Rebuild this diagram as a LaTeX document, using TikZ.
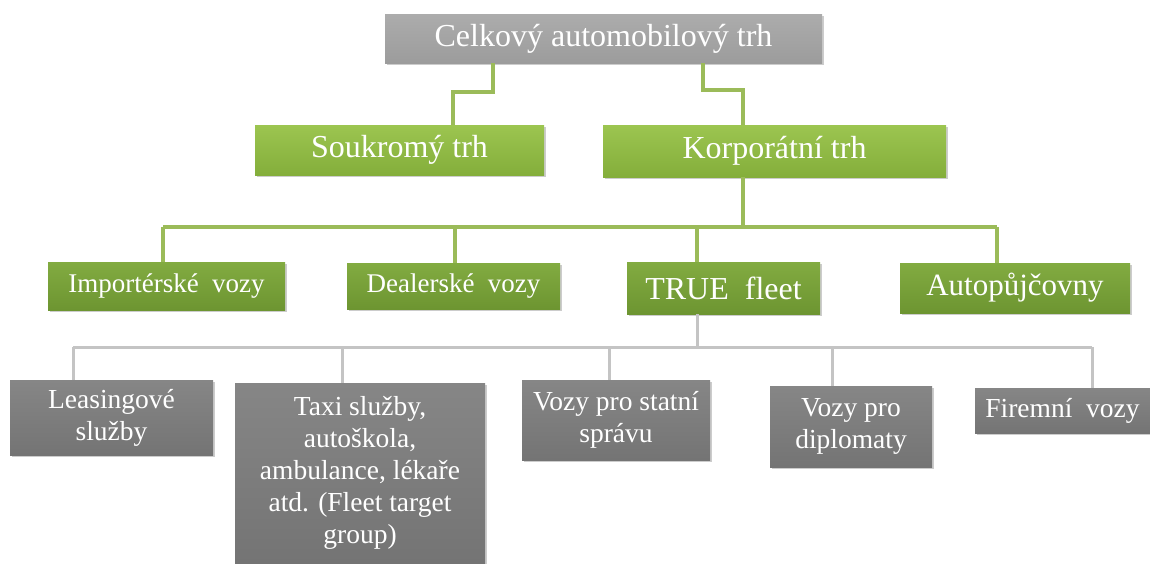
\documentclass[tikz,border=0pt]{standalone}
\usepackage{fontspec}
\setmainfont{Liberation Serif}
\usetikzlibrary{shadows}
\definecolor{topgrayA}{HTML}{ACACAC}
\definecolor{topgrayB}{HTML}{9C9C9C}
\definecolor{lgreenA}{HTML}{9CC550}
\definecolor{lgreenB}{HTML}{84AE3B}
\definecolor{dgreenA}{HTML}{82AB41}
\definecolor{dgreenB}{HTML}{6D9531}
\definecolor{dgrayA}{HTML}{868686}
\definecolor{dgrayB}{HTML}{747474}
\definecolor{gline}{HTML}{9BBB59}
\definecolor{sline}{HTML}{C4C4C4}

\begin{document}
\begin{tikzpicture}[x=1pt, y=-1pt,
    box/.style={text=white, align=center, inner sep=1pt,
        drop shadow={opacity=0.4, shadow xshift=2pt, shadow yshift=-2pt}},
    mainbox/.style={box, top color=topgrayA, bottom color=topgrayB,
        font=\fontsize{32}{36}\selectfont},
    marketbox/.style={box, top color=lgreenA, bottom color=lgreenB,
        font=\fontsize{32}{36}\selectfont},
    groupbox/.style={box, top color=dgreenA, bottom color=dgreenB},
    kindbox/.style={box, top color=dgrayA, bottom color=dgrayB,
        font=\fontsize{27.5}{32}\selectfont},
    greenlink/.style={draw=gline, line width=3.5pt},
    graylink/.style={draw=sline, line width=3pt}]
    \useasboundingbox (0,0) rectangle (1150,563);

    \node[mainbox, minimum width=437pt, minimum height=49pt] (celk) at (603.5,38.5) {Celkový automobilový trh};
    \node[marketbox, minimum width=289pt, minimum height=50pt] (souk) at (399.5,150) {Soukromý trh};
    \node[marketbox, minimum width=343pt, minimum height=52pt] (korp) at (774.5,151) {Korporátní trh};

    \node[groupbox, minimum width=237pt, minimum height=48pt, font=\fontsize{27}{32}\selectfont] (impo) at (166.5,286) {Importérské~~vozy};
    \node[groupbox, minimum width=213pt, minimum height=46pt, font=\fontsize{27}{32}\selectfont] (deal) at (453.5,286) {Dealerské~~vozy};
    \node[groupbox, minimum width=193pt, minimum height=52pt, font=\fontsize{32}{36}\selectfont] (true) at (723.5,288) {TRUE~~fleet};
    \node[groupbox, minimum width=230pt, minimum height=50pt, font=\fontsize{31}{36}\selectfont] (auto) at (1015,288) {Autopůjčovny};

    \node[kindbox, minimum width=203pt, minimum height=75pt] (leas) at (111.5,417.5) {Leasingové\\služby};
    \node[kindbox, minimum width=250pt, minimum height=180pt] (taxi) at (360,473) {Taxi služby,\\autoškola,\\ambulance, lékaře\\atd. (Fleet target\\group)};
    \node[kindbox, minimum width=188pt, minimum height=80pt] (stat) at (616,420) {Vozy pro statní\\správu};
    \node[kindbox, minimum width=162pt, minimum height=81pt] (dipl) at (851,426.5) {Vozy pro\\diplomaty};
    \node[kindbox, minimum width=175pt, minimum height=45pt] (firm) at (1062.5,410.5) {Firemní~~vozy};

    \coordinate (sa) at (493,92);
    \coordinate (sb) at (453,92);
    \coordinate (ka) at (703,90);
    \coordinate (kb) at (743,90);
    \coordinate (gl) at (163,227);
    \coordinate (gr) at (997,227);
    \coordinate (tl) at (73,347);
    \coordinate (tr) at (1092,347);

    \draw[greenlink] (celk.south -| sa) -- (sa) -- (sb) -- (souk.north -| sb);
    \draw[greenlink] (celk.south -| ka) -- (ka) -- (kb) -- (korp.north -| kb);
    \draw[greenlink] (korp.south -| kb) -- (kb |- gl);
    \draw[greenlink] (gl) -- (gr);
    \draw[greenlink] (gl) -- (impo.north -| gl);
    \draw[greenlink] (455,227) -- (deal.north -| 455,0);
    \draw[greenlink] (697,227) -- (true.north -| 697,0);
    \draw[greenlink] (gr) -- (auto.north -| gr);

    \draw[graylink] (true.south -| 697,0) -- (697,347);
    \draw[graylink] (tl) -- (tr);
    \draw[graylink] (tl) -- (leas.north -| tl);
    \draw[graylink] (342,347) -- (taxi.north -| 342,0);
    \draw[graylink] (609,347) -- (stat.north -| 609,0);
    \draw[graylink] (832,347) -- (dipl.north -| 832,0);
    \draw[graylink] (tr) -- (firm.north -| tr);
\end{tikzpicture}
\end{document}
